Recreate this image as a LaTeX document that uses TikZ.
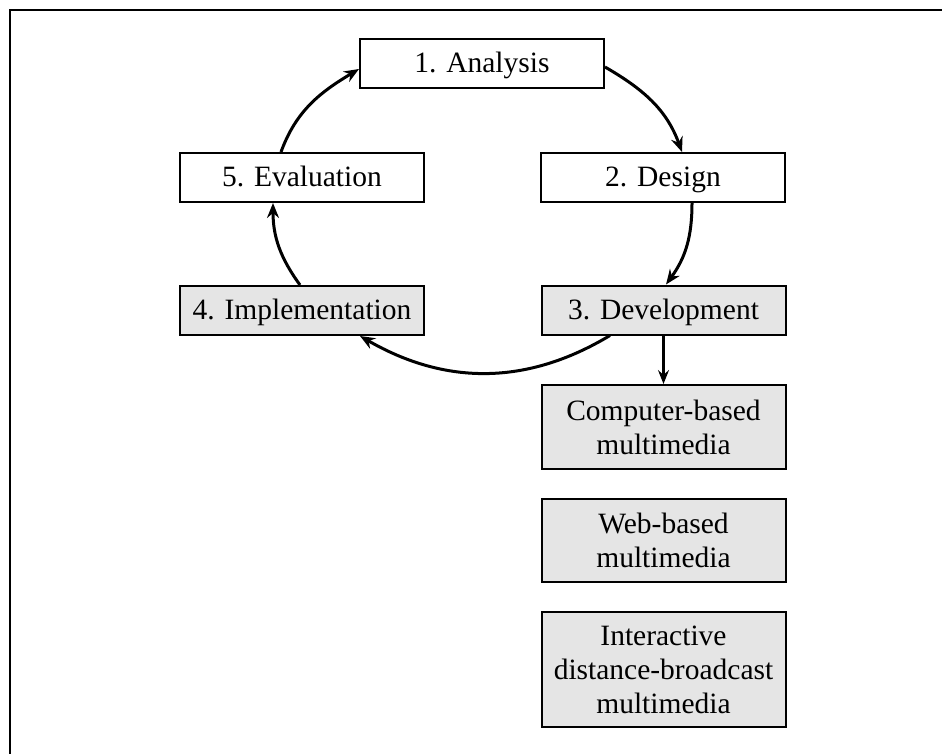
\documentclass[tikz,border=0pt]{standalone}
\usepackage{fontspec}
\setmainfont{Liberation Serif}
\usetikzlibrary{arrows.meta}
\begin{document}
\begin{tikzpicture}[x=1pt,y=-1pt,
  font=\fontsize{29.5}{34}\selectfont,
  box/.style={draw=black, line width=2pt, minimum width=244pt, minimum height=49pt,
    inner sep=0pt, align=center},
  stage/.style={box, text height=20pt, text depth=2pt},
  shaded/.style={stage, fill=black!10},
  form/.style={box, fill=black!10},
  flow/.style={line width=3pt, -{Stealth[length=15pt,width=12pt,inset=5pt]}},
  frameline/.style={line width=2.2pt}]
  % canvas and the two visible frame edges
  \fill[white] (0,0) rectangle (942,754);
  \useasboundingbox (0,0) rectangle (942,754);
  \draw[frameline] (10,754) -- (10,10) -- (942,10);

  % cycle stages
  \node[stage]  (ana) at (482,63.5)  {1. Analysis};
  \node[stage]  (des) at (663,177.5) {2. Design};
  \node[stage]  (eva) at (302,177.5) {5. Evaluation};
  \node[shaded] (imp) at (302,310.5) {4. Implementation};
  \node[shaded] (dev) at (663.5,310) {3. Development};

  % delivery forms
  \node[form, minimum height=84pt]  (cbm) at (663.5,427)   {Computer-based\\multimedia};
  \node[form, minimum height=83pt]  (wbm) at (663.5,540.5) {Web-based\\multimedia};
  \node[form, minimum height=115pt] (idm) at (663.5,669.5) {Interactive\\distance-broadcast\\multimedia};

  % cycle arrows
  \draw[flow] ([xshift=-21pt]eva.north) to[out=70,in=211] ([yshift=-5.5pt]ana.west);
  \draw[flow] ([yshift=-3.5pt]ana.east) to[out=-30,in=110] ([xshift=19pt]des.north);
  \draw[flow] ([xshift=29pt]des.south) to[out=-90,in=54] ([xshift=2.5pt]dev.north);
  \draw[flow] ([xshift=-53.5pt]dev.south) to[out=211,in=330] ([xshift=58pt]imp.south);
  \draw[flow] ([xshift=-2pt]imp.north) to[out=126,in=-90] ([xshift=-29pt]eva.south);

  % development output
  \draw[line width=2.6pt, -{Stealth[length=14pt,width=11pt,inset=5pt]}] (dev.south) -- (cbm.north);
\end{tikzpicture}
\end{document}
